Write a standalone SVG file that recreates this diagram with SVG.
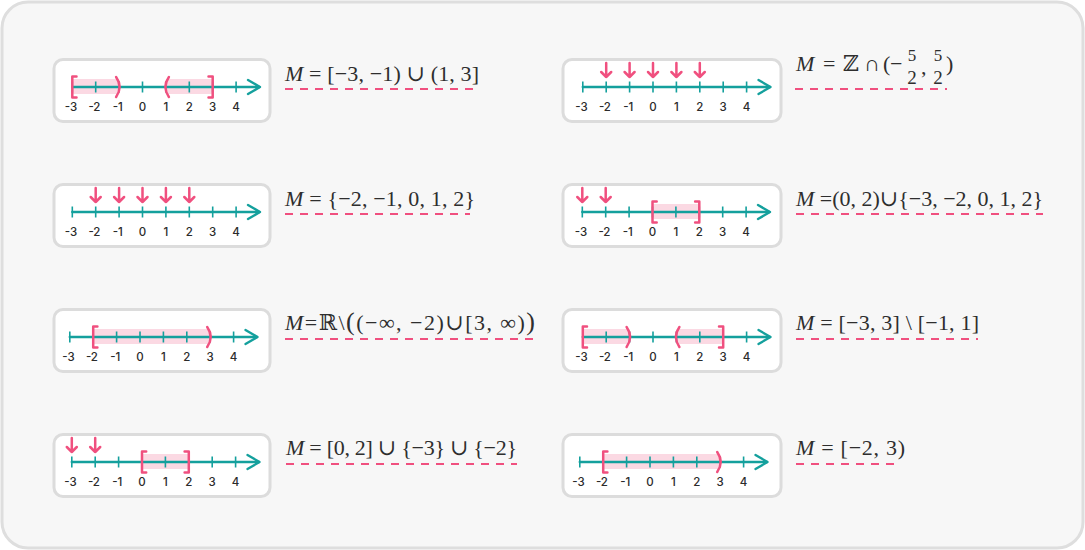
<svg xmlns="http://www.w3.org/2000/svg" xmlns:xlink="http://www.w3.org/1999/xlink" width="1085" height="550" viewBox="0 0 1085 550">
<style>
.frame{fill:#f7f7f7;stroke:#dedede;stroke-width:3}
.box{fill:#fff;stroke:#dcdcdc;stroke-width:3}
.ax{stroke:#14a09d;stroke-width:2.4;fill:none;stroke-linecap:round;stroke-linejoin:round}
.tk{stroke:#14a09d;stroke-width:1.6}
.lb{font-family:Inter,"Liberation Sans",sans-serif;font-size:11.5px;font-weight:500;fill:#2b2b2b;text-anchor:middle}
.pk{stroke:#f0507f;stroke-width:2.5;fill:none;stroke-linecap:round;stroke-linejoin:round}
.sh{fill:#fbd9e3}
.fm{font-family:"Liberation Serif","DejaVu Serif",serif;fill:#2e2e2e}
.it{font-style:italic}
.ul{stroke:#f0507f;stroke-width:2;stroke-dasharray:8 7;fill:none}
</style>
<defs>
<g id="axis">
<line class="ax" x1="-70.2" y1="0" x2="117" y2="0"/>
<polyline class="ax" points="105.5,-7 117.5,0 105.5,7"/>
<g class="tk">
<line x1="-70.2" y1="-5.5" x2="-70.2" y2="5.5"/>
<line x1="-46.8" y1="-5.5" x2="-46.8" y2="5.5"/>
<line x1="-23.4" y1="-5.5" x2="-23.4" y2="5.5"/>
<line x1="0" y1="-5.5" x2="0" y2="5.5"/>
<line x1="23.4" y1="-5.5" x2="23.4" y2="5.5"/>
<line x1="46.8" y1="-5.5" x2="46.8" y2="5.5"/>
<line x1="70.2" y1="-5.5" x2="70.2" y2="5.5"/>
<line x1="93.6" y1="-5.5" x2="93.6" y2="5.5"/>
</g>
<g class="lb">
<text x="-71.5" y="24">-3</text>
<text x="-48.1" y="24">-2</text>
<text x="-24.7" y="24">-1</text>
<text x="0" y="24">0</text>
<text x="23.4" y="24">1</text>
<text x="46.8" y="24">2</text>
<text x="70.2" y="24">3</text>
<text x="93.6" y="24">4</text>
</g>
</g>
<path id="dn" class="pk" d="M0,-24 V-10 M-5,-15 L0,-10 L5,-15"/>
<g id="panelA">
<rect class="sh" x="-70.2" y="-8" width="46.8" height="15"/>
<rect class="sh" x="23.4" y="-8" width="46.8" height="15"/>
<use xlink:href="#axis"/>
<path class="pk" d="M-66,-10.5 H-70.2 V10.5 H-66"/>
<path class="pk" d="M-26.4,-10 Q-19.4,0 -26.4,10"/>
<path class="pk" d="M26.4,-10 Q19.4,0 26.4,10"/>
<path class="pk" d="M66,-10.5 H70.2 V10.5 H66"/>
</g>
<g id="panelB">
<use xlink:href="#axis"/>
<use xlink:href="#dn" x="-46.8"/>
<use xlink:href="#dn" x="-23.4"/>
<use xlink:href="#dn" x="0"/>
<use xlink:href="#dn" x="23.4"/>
<use xlink:href="#dn" x="46.8"/>
</g>
<g id="panelC">
<rect class="sh" x="0" y="-8" width="46.8" height="15"/>
<use xlink:href="#axis"/>
<use xlink:href="#dn" x="-70.2"/>
<use xlink:href="#dn" x="-46.8"/>
<path class="pk" d="M4.2,-10.5 H0 V10.5 H4.2"/>
<path class="pk" d="M42.6,-10.5 H46.8 V10.5 H42.6"/>
</g>
<g id="panelD">
<rect class="sh" x="-46.8" y="-8" width="117" height="15"/>
<use xlink:href="#axis"/>
<path class="pk" d="M-42.6,-10.5 H-46.8 V10.5 H-42.6"/>
<path class="pk" d="M67.2,-10 Q74.2,0 67.2,10"/>
</g>
</defs>

<rect class="frame" x="2" y="2" width="1081" height="546" rx="26"/>

<g id="n1">
<rect class="box" x="54" y="59.5" width="216" height="62" rx="9"/>
<use xlink:href="#panelA" transform="translate(142.5,87)"/>
<text class="fm" x="285" y="81" font-size="22" textLength="194"><tspan class="it">M</tspan> = [−3, −1) ∪ (1, 3]</text>
<line class="ul" x1="285" y1="89" x2="480" y2="89"/>
</g>

<g id="n2">
<rect class="box" x="563" y="59.5" width="218" height="62" rx="9"/>
<use xlink:href="#panelB" transform="translate(653,87)"/>
<g class="fm" font-size="22">
<text class="it" x="796" y="71">M</text>
<text x="823" y="71">=</text>
<text x="843" y="71">ℤ</text>
<text x="864" y="71">∩</text>
<text x="883" y="71">(</text>
<text x="890" y="71">−</text>
<text x="912" y="61" font-size="17" text-anchor="middle">5</text>
<text x="912" y="84" font-size="19" text-anchor="middle">2</text>
<text x="921" y="74">,</text>
<text x="938" y="61" font-size="17" text-anchor="middle">5</text>
<text x="938" y="84" font-size="19" text-anchor="middle">2</text>
<text x="946" y="71">)</text>
</g>
<line class="ul" x1="795" y1="89" x2="947" y2="89"/>
</g>

<g id="n3">
<rect class="box" x="54" y="184.5" width="216" height="62" rx="9"/>
<use xlink:href="#panelB" transform="translate(142.5,212)"/>
<text class="fm" x="285" y="206" font-size="22" textLength="190"><tspan class="it">M</tspan> = {−2, −1, 0, 1, 2}</text>
<line class="ul" x1="285" y1="214" x2="470" y2="214"/>
</g>

<g id="n4">
<rect class="box" x="563" y="184.5" width="218" height="62" rx="9"/>
<use xlink:href="#panelC" transform="translate(652.5,212)"/>
<text class="fm" x="796" y="206" font-size="22" textLength="247"><tspan class="it">M</tspan> =(0, 2)∪{−3, −2, 0, 1, 2}</text>
<line class="ul" x1="796" y1="214" x2="1043" y2="214"/>
</g>

<g id="n5">
<rect class="box" x="54" y="309.5" width="216" height="62" rx="9"/>
<use xlink:href="#panelD" transform="translate(140,337)"/>
<text class="fm" x="285" y="330" font-size="22" textLength="250"><tspan class="it">M</tspan>=ℝ\<tspan font-size="26">(</tspan>(−∞, −2)∪[3, ∞)<tspan font-size="26">)</tspan></text>
<line class="ul" x1="285" y1="339" x2="533" y2="339"/>
</g>

<g id="n6">
<rect class="box" x="563" y="309.5" width="218" height="62" rx="9"/>
<use xlink:href="#panelA" transform="translate(653,337)"/>
<text class="fm" x="796" y="330" font-size="22" textLength="183"><tspan class="it">M</tspan> = [−3, 3] \ [−1, 1]</text>
<line class="ul" x1="796" y1="339" x2="978" y2="339"/>
</g>

<g id="n7">
<rect class="box" x="54" y="434.5" width="216" height="62" rx="9"/>
<use xlink:href="#panelC" transform="translate(142,462)"/>
<text class="fm" x="286" y="455" font-size="22" textLength="231"><tspan class="it">M</tspan> = [0, 2] ∪ {−3} ∪ {−2}</text>
<line class="ul" x1="286" y1="464" x2="517" y2="464"/>
</g>

<g id="n8">
<rect class="box" x="563" y="434.5" width="218" height="62" rx="9"/>
<use xlink:href="#panelD" transform="translate(650,462)"/>
<text class="fm" x="796" y="455" font-size="22" textLength="109"><tspan class="it">M</tspan> = [−2, 3)</text>
<line class="ul" x1="796" y1="464" x2="898" y2="464"/>
</g>
</svg>
